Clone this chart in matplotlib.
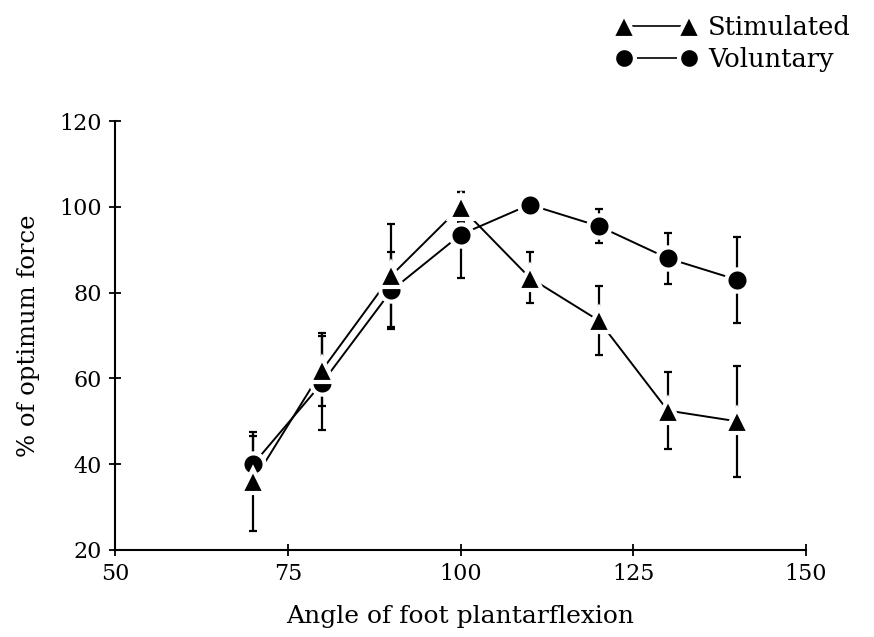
import matplotlib
matplotlib.use("Agg")
import matplotlib.pyplot as plt
from matplotlib.lines import Line2D

# Foot plantarflexion angle (degrees)
angles = [70, 80, 90, 100, 110, 120, 130, 140]

# Stimulated contractions: mean and error (% of optimum force)
stim_mean = [36, 62, 84, 100, 83.5, 73.5, 52.5, 50]
stim_err = [11.5, 8.5, 12, 3.5, 6, 8, 9, 13]

# Voluntary contractions: mean and error (% of optimum force)
vol_mean = [40, 59, 80.5, 93.5, 100.5, 95.5, 88, 83]
vol_err = [6.5, 11, 9, 10, 1, 4, 6, 10]

xticks = [50, 75, 100, 125, 150]
yticks = [20, 40, 60, 80, 100, 120]

plt.rcParams["font.family"] = ["DejaVu Serif"]

fig = plt.figure(figsize=(8.74, 6.37), dpi=100)
ax = fig.add_axes([0.1316, 0.1366, 0.7906, 0.6734])

halo = dict(markeredgecolor="white", markeredgewidth=3.0)

series = [(vol_mean, vol_err, "o", 16, 3),
          (stim_mean, stim_err, "^", 17, 4)]
for mean, err, mk, ms, z in series:
    ax.errorbar(angles, mean, yerr=err, fmt="none", ecolor="black",
                elinewidth=1.6, capsize=3, capthick=1.6, zorder=1)
    ax.plot(angles, mean, color="black", lw=1.4, zorder=2)
    ax.plot(angles, mean, linestyle="none", marker=mk, ms=ms,
            markerfacecolor="black", zorder=z, **halo)

ax.set_xlim(50, 150)
ax.set_ylim(20, 120)
ax.set_xticks(xticks)
ax.set_yticks(yticks)
ax.tick_params(direction="inout", length=9, width=1.3, labelsize=16, pad=5)
for side in ["top", "right"]:
    ax.spines[side].set_visible(False)
for side in ["left", "bottom"]:
    ax.spines[side].set_linewidth(1.5)

ax.set_xlabel("Angle of foot plantarflexion", fontsize=18, labelpad=14)
ax.set_ylabel("% of optimum force", fontsize=17.5, labelpad=14)

handles = [
    Line2D([], [], color="black", lw=1.2, marker="^", ms=17,
           markerfacecolor="black", **halo),
    Line2D([], [], color="black", lw=1.2, marker="o", ms=15,
           markerfacecolor="black", **halo),
]
fig.legend(handles, ["Stimulated", "Voluntary"], loc="upper right",
           bbox_to_anchor=(1.0, 1.012), frameon=False, fontsize=18.5,
           handlelength=3.1, handletextpad=0.45, labelspacing=0.25,
           numpoints=2)

fig.savefig("out.png", dpi=100, facecolor="white")
